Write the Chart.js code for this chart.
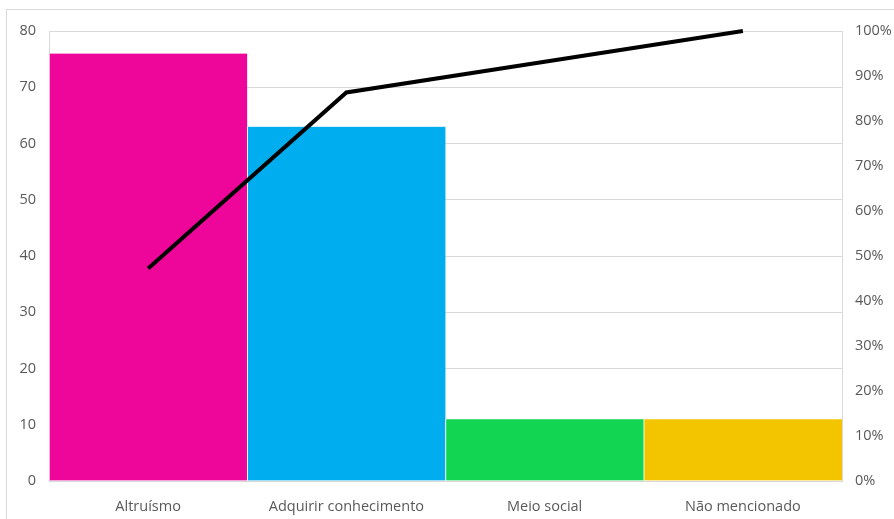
<!DOCTYPE html>
<html>
<head>
<meta charset="utf-8">
<script src="https://cdn.jsdelivr.net/npm/chart.js@4"></script>
<style>
  html, body { margin: 0; padding: 0; background: #fff; }
  #wrap { width: 894px; height: 519px; position: relative; }
</style>
</head>
<body>
<div id="wrap"><canvas id="c" width="894" height="519"></canvas></div>
<script>
// Motivos citados (contagens) e percentual acumulado (Pareto)
const categories = ['Altruísmo', 'Adquirir conhecimento', 'Meio social', 'Não mencionado'];
const counts = [76, 63, 11, 11];
const barColors = ['#EE069A', '#00AEEF', '#12D651', '#F2C500'];
const leftTicks = [0, 10, 20, 30, 40, 50, 60, 70, 80];
const rightTicks = [0, 10, 20, 30, 40, 50, 60, 70, 80, 90, 100];

const total = counts.reduce((a, b) => a + b, 0);
let running = 0;
const cumulativePct = counts.map(v => { running += v; return running / total * 100; });

const textColor = '#595959';
const gridColor = '#D9D9D9';
const font = { family: 'Open Sans', size: 14.5 };

const framePlugin = {
  id: 'frame',
  beforeDraw(chart) {
    const ctx = chart.ctx;
    ctx.save();
    ctx.fillStyle = '#fff';
    ctx.fillRect(0, 0, chart.width, chart.height);
    ctx.strokeStyle = '#D9D9D9';
    ctx.lineWidth = 1;
    ctx.strokeRect(6.5, 9.5, chart.width + 10, chart.height + 10);
    ctx.restore();
  }
};

new Chart(document.getElementById('c'), {
  data: {
    labels: categories,
    datasets: [
      {
        type: 'line',
        data: cumulativePct,
        yAxisID: 'y1',
        borderColor: '#000',
        borderWidth: 4,
        pointRadius: 0,
        tension: 0,
        fill: false,
        clip: false,
        order: 0
      },
      {
        type: 'bar',
        data: counts,
        yAxisID: 'y',
        backgroundColor: barColors,
        borderColor: '#fff',
        borderWidth: { left: 1, right: 0, top: 0, bottom: 0 },
        borderSkipped: false,
        categoryPercentage: 1,
        barPercentage: 1,
        order: 1
      }
    ]
  },
  options: {
    responsive: false,
    animation: false,
    layout: { padding: { top: 31, bottom: 0, left: 0, right: 0 } },
    plugins: { legend: { display: false }, tooltip: { enabled: false } },
    scales: {
      x: {
        grid: { display: false, drawTicks: false },
        border: { display: true, color: gridColor },
        ticks: { color: textColor, font: font, padding: 17 },
        afterFit(scale) { scale.height = 38; }
      },
      y: {
        position: 'left',
        min: 0, max: 80,
        afterBuildTicks(scale) { scale.ticks = leftTicks.map(v => ({ value: v })); },
        grid: { color: gridColor, drawTicks: false },
        border: { display: true, color: gridColor },
        ticks: { color: textColor, font: font, padding: 13 },
        afterFit(scale) { scale.width = 49; }
      },
      y1: {
        position: 'right',
        min: 0, max: 100,
        afterBuildTicks(scale) { scale.ticks = rightTicks.map(v => ({ value: v })); },
        grid: { display: false, drawTicks: false },
        border: { display: true, color: gridColor },
        ticks: { color: textColor, font: font, padding: 13, callback: v => v + '%' },
        afterFit(scale) { scale.width = 52; }
      }
    }
  },
  plugins: [framePlugin]
});
</script>
</body>
</html>
